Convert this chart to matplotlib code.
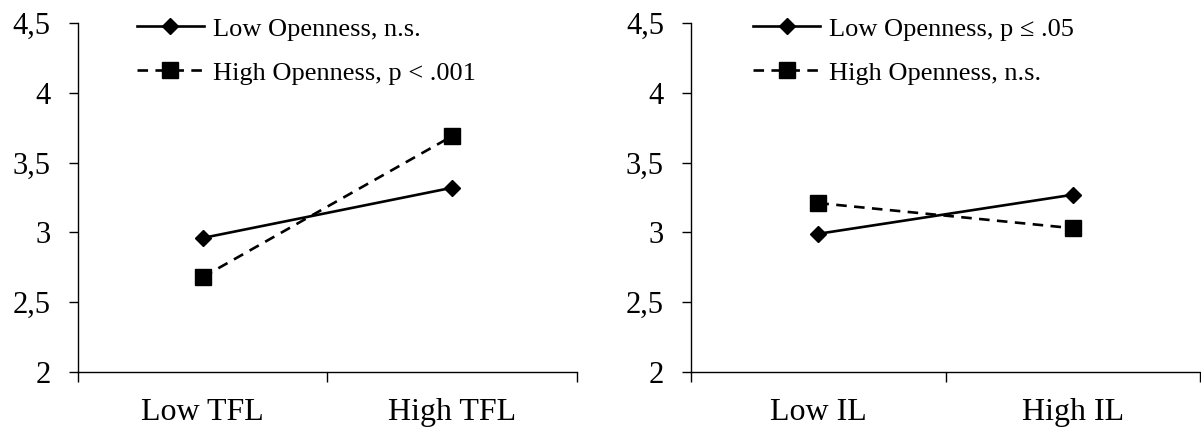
import matplotlib.pyplot as plt

plt.rcParams["font.family"] = ["Liberation Serif", "DejaVu Serif"]

# Left panel: TFL
tfl_cats = ["Low TFL", "High TFL"]
tfl_low_open = [2.96, 3.32]
tfl_high_open = [2.68, 3.69]
tfl_labels = ["Low Openness, n.s.", "High Openness, p < .001"]

# Right panel: IL
il_cats = ["Low IL", "High IL"]
il_low_open = [2.99, 3.27]
il_high_open = [3.21, 3.03]
il_labels = ["Low Openness, p \u2264 .05", "High Openness, n.s."]

yticks = [2, 2.5, 3, 3.5, 4, 4.5]
ytick_labels = ["2", "2,5", "3", "3,5", "4", "4,5"]


def draw_panel(ax, cats, low, high, labels, leg_x):
    xs = [0.5, 1.5]
    ax.plot(xs, low, color="black", lw=1.9, marker="D", ms=8,
            label=labels[0])
    ax.plot(xs, high, color="black", lw=1.9, ls=(0, (4, 2.8)), marker="s",
            ms=11.5, label=labels[1])
    ax.set_xlim(0, 2)
    ax.set_ylim(2, 4.5)
    ax.set_yticks(yticks)
    ax.set_yticklabels(ytick_labels, fontsize=22)
    ax.set_xticks([0, 1, 2])
    ax.set_xticklabels([])
    ax.set_xticks(xs, minor=True)
    ax.set_xticklabels(cats, minor=True, fontsize=23)
    ax.tick_params(axis="x", which="minor", length=0, pad=19)
    ax.tick_params(axis="x", which="major", length=7, width=1, direction="out")
    ax.tick_params(axis="y", length=6.5, width=1, direction="out", pad=13)
    for s in ["top", "right"]:
        ax.spines[s].set_visible(False)
    for s in ["left", "bottom"]:
        ax.spines[s].set_linewidth(1)
    ax.legend(loc="upper left", bbox_to_anchor=(leg_x, 1.017), frameon=False,
              fontsize=19, handlelength=2.55, handletextpad=0.34,
              labelspacing=0.78, borderaxespad=0, borderpad=0)


fig = plt.figure(figsize=(12.01, 4.28), dpi=100)
ax1 = fig.add_axes([0.0649, 0.1308, 0.4155, 0.8155])
ax2 = fig.add_axes([0.5754, 0.1308, 0.4240, 0.8155])

draw_panel(ax1, tfl_cats, tfl_low_open, tfl_high_open, tfl_labels, 0.118)
draw_panel(ax2, il_cats, il_low_open, il_high_open, il_labels, 0.1216)

fig.savefig("out.png", dpi=100)
